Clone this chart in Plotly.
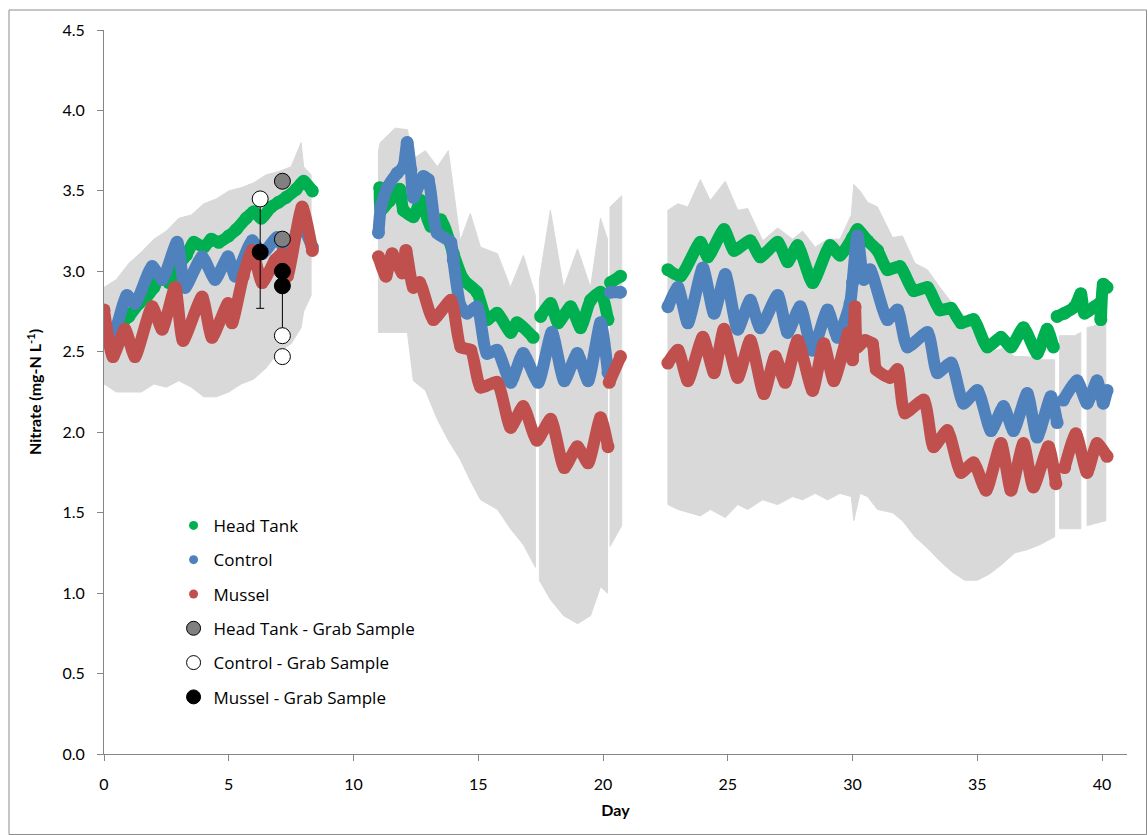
import plotly.graph_objects as go

# ---------------- data ----------------
# Head Tank continuous sensor series (None = data gap)
ht_day = [0.0, 0.3, 0.7, 1.0, 1.4, 1.7, 2.0, 2.3, 2.6, 3.0, 3.3, 3.6, 4.0, 4.3, 4.6, 5.0, 5.3, 5.7, 6.0, 6.3, 6.7, 7.0, 7.3, 7.7, 8.0, 8.35,
          None,
          11.05, 11.1, 11.45, 11.85, 12.0, 12.4, 12.7, 13.1, 13.5, 14.0, 14.4, 14.95, 15.35, 15.75, 16.3, 16.55, 17.2,
          None,
          17.5, 17.9, 18.2, 18.7, 19.1, 19.5, 19.9, 20.2,
          None,
          20.3, 20.7,
          None,
          22.6, 23.1, 23.9, 24.2, 24.85, 25.25, 25.9, 26.3, 27.0, 27.4, 27.8, 28.4, 29.1, 29.5, 30.0, 30.2, 30.6, 31.0, 31.4, 31.9,
          32.45, 33.0, 33.5, 33.95, 34.35, 34.85, 35.4, 35.95, 36.35, 36.85, 37.4, 37.8, 38.05,
          None,
          38.2, 38.5, 38.9, 39.15, 39.3, 39.7, 39.9, 39.95, 40.05, 40.2]
ht_val = [2.58, 2.63, 2.68, 2.72, 2.80, 2.84, 2.90, 2.98, 2.93, 3.04, 3.10, 3.18, 3.15, 3.20, 3.18, 3.22, 3.26, 3.33, 3.37, 3.33, 3.40, 3.43, 3.46, 3.51, 3.56, 3.50,
          None,
          3.52, 3.38, 3.44, 3.51, 3.38, 3.34, 3.44, 3.28, 3.32, 3.11, 2.95, 2.87, 2.70, 2.74, 2.62, 2.68, 2.59,
          None,
          2.72, 2.80, 2.68, 2.78, 2.65, 2.82, 2.87, 2.70,
          None,
          2.93, 2.97,
          None,
          3.01, 2.97, 3.18, 3.09, 3.26, 3.13, 3.19, 3.09, 3.18, 3.06, 3.16, 2.93, 3.16, 3.10, 3.21, 3.26, 3.19, 3.13, 3.01, 3.03,
          2.88, 2.90, 2.76, 2.77, 2.68, 2.70, 2.53, 2.59, 2.53, 2.65, 2.49, 2.64, 2.53,
          None,
          2.72, 2.74, 2.78, 2.86, 2.74, 2.78, 2.80, 2.70, 2.92, 2.90]

# Control continuous sensor series
ct_day = [0.05, 0.32, 0.92, 1.24, 1.93, 2.33, 2.93, 3.25, 3.93, 4.45, 4.97, 5.26, 5.94, 6.34, 6.94, 7.38, 7.86, 8.35,
          None,
          11.0, 11.1, 11.35, 11.75, 12.0, 12.15, 12.3, 12.4, 12.8, 13.0, 13.35, 13.9, 14.0, 14.3, 14.55, 14.95, 15.35, 15.75,
          16.3, 16.8, 17.4, 17.95, 18.45, 18.97, 19.4, 19.9, 20.2,
          None,
          20.3, 20.7,
          None,
          22.6, 23.0, 23.4, 24.0, 24.45, 24.9, 25.4, 25.9, 26.3, 27.0, 27.4, 27.9, 28.4, 29.0, 29.4, 29.9, 30.0, 30.2, 30.45, 30.7,
          31.4, 31.8, 32.2, 33.0, 33.4, 33.95, 34.45, 35.0, 35.55, 36.05, 36.45, 37.0, 37.4, 37.95, 38.2,
          None,
          38.45, 39.0, 39.4, 39.8, 40.05, 40.2]
ct_val = [2.65, 2.58, 2.85, 2.80, 3.03, 2.95, 3.18, 2.90, 3.09, 2.95, 3.09, 2.97, 3.19, 3.11, 3.21, 3.09, 3.30, 3.15,
          None,
          3.24, 3.40, 3.52, 3.61, 3.65, 3.80, 3.63, 3.46, 3.59, 3.57, 3.24, 3.18, 3.07, 2.78, 2.74, 2.78, 2.49, 2.51,
          2.31, 2.49, 2.31, 2.62, 2.32, 2.49, 2.32, 2.68, 2.37,
          None,
          2.87, 2.87,
          None,
          2.78, 2.90, 2.68, 3.02, 2.74, 2.98, 2.64, 2.82, 2.65, 2.85, 2.62, 2.78, 2.51, 2.76, 2.59, 2.80, 2.93, 3.22, 2.95, 3.01,
          2.70, 2.76, 2.53, 2.62, 2.37, 2.43, 2.18, 2.26, 2.01, 2.16, 2.01, 2.24, 1.97, 2.22, 2.06,
          None,
          2.20, 2.32, 2.18, 2.32, 2.18, 2.26]

# Mussel continuous sensor series
ms_day = [0.0, 0.36, 0.84, 1.24, 1.93, 2.33, 2.85, 3.17, 3.93, 4.33, 4.97, 5.13, 5.58, 5.94, 6.34, 6.86, 7.14, 7.35, 7.94, 8.35,
          None,
          11.0, 11.3, 11.55, 11.95, 12.1, 12.4, 12.65, 13.2, 13.9, 14.3, 14.7, 15.1, 15.75, 16.3, 16.8, 17.35, 17.9, 18.45, 18.97,
          19.4, 19.9, 20.2,
          None,
          20.25, 20.7,
          None,
          22.6, 23.0, 23.4, 24.0, 24.45, 24.85, 25.4, 25.9, 26.45, 26.9, 27.3, 27.8, 28.4, 28.85, 29.25, 29.85, 30.0, 30.1, 30.2,
          30.5, 30.8, 30.95, 31.5, 31.8, 32.1, 32.85, 33.25, 33.8, 34.35, 34.85, 35.35, 35.95, 36.35, 36.85, 37.25, 37.85, 38.15,
          None,
          38.5, 38.95, 39.4, 39.8, 40.2]
ms_val = [2.76, 2.47, 2.64, 2.47, 2.78, 2.64, 2.90, 2.57, 2.84, 2.59, 2.80, 2.68, 2.97, 3.13, 2.93, 3.07, 3.11, 2.97, 3.40, 3.13,
          None,
          3.09, 2.97, 3.11, 2.99, 3.13, 2.90, 2.93, 2.70, 2.82, 2.53, 2.51, 2.28, 2.31, 2.03, 2.16, 1.95, 2.08, 1.78, 1.91,
          1.81, 2.09, 1.91,
          None,
          2.31, 2.47,
          None,
          2.43, 2.51, 2.32, 2.59, 2.37, 2.64, 2.34, 2.57, 2.24, 2.47, 2.31, 2.57, 2.26, 2.55, 2.32, 2.62, 2.45, 2.78, 2.53,
          2.57, 2.55, 2.39, 2.34, 2.39, 2.12, 2.20, 1.91, 2.01, 1.75, 1.81, 1.64, 1.93, 1.64, 1.93, 1.66, 1.91, 1.68,
          None,
          1.78, 1.99, 1.75, 1.93, 1.85]

# Envelope of the grey error bars (upper / lower limits), None = gap
band_day = [0.0, 0.5, 1.0, 1.5, 2.0, 2.5, 3.0, 3.5, 4.0, 4.5, 5.0, 5.5, 6.0, 6.5, 7.0, 7.5, 7.9, 8.0, 8.3,
            None,
            11.0, 11.07, 11.67, 12.16, 12.4, 12.88, 13.36, 13.8, 14.28, 14.68, 15.09, 15.77, 16.29, 16.81, 17.29,
            None,
            17.45, 17.89, 18.42, 18.98, 19.5, 19.9, 20.18,
            None,
            20.28, 20.75,
            None,
            22.6, 23.0, 23.4, 23.9, 24.3, 24.9, 25.4, 25.8, 26.4, 27.0, 27.6, 28.0, 28.5, 29.0, 29.5, 29.95, 30.05, 30.3, 30.6,
            31.0, 31.6, 32.0, 32.5, 33.0, 33.5, 34.0, 34.5, 35.0, 35.5, 36.0, 36.5, 37.0, 37.5, 38.1,
            None,
            38.3, 38.9, 39.15,
            None,
            39.4, 40.15]
band_hi = [2.90, 2.95, 3.05, 3.12, 3.20, 3.25, 3.33, 3.35, 3.42, 3.45, 3.50, 3.52, 3.55, 3.60, 3.62, 3.65, 3.80, 3.65, 3.60,
           None,
           3.75, 3.80, 3.89, 3.88, 3.70, 3.75, 3.65, 3.75, 3.19, 3.36, 3.15, 3.11, 2.90, 3.10, 2.85,
           None,
           2.95, 3.38, 2.90, 3.14, 2.90, 3.33, 3.20,
           None,
           3.40, 3.47,
           None,
           3.38, 3.42, 3.40, 3.57, 3.44, 3.56, 3.38, 3.39, 3.19, 3.27, 3.20, 3.25, 3.15, 3.20, 3.20, 3.35, 3.54, 3.50, 3.43,
           3.40, 3.21, 3.22, 3.05, 3.01, 2.90, 2.80, 2.72, 2.60, 2.50, 2.52, 2.47, 2.47, 2.45, 2.45,
           None,
           2.60, 2.60, 2.62,
           None,
           2.65, 2.68]
band_lo = [2.30, 2.25, 2.25, 2.25, 2.30, 2.28, 2.32, 2.28, 2.22, 2.22, 2.25, 2.30, 2.33, 2.40, 2.50, 2.55, 2.65, 2.75, 2.85,
           None,
           2.62, 2.62, 2.62, 2.62, 2.32, 2.26, 2.08, 1.95, 1.83, 1.70, 1.58, 1.52, 1.40, 1.30, 1.16,
           None,
           1.08, 0.96, 0.86, 0.81, 0.86, 1.04, 1.00,
           None,
           1.29, 1.42,
           None,
           1.55, 1.52, 1.50, 1.48, 1.52, 1.47, 1.55, 1.52, 1.58, 1.55, 1.60, 1.58, 1.62, 1.58, 1.62, 1.60, 1.45, 1.62, 1.60,
           1.52, 1.50, 1.45, 1.35, 1.28, 1.20, 1.13, 1.08, 1.08, 1.12, 1.18, 1.25, 1.27, 1.30, 1.35,
           None,
           1.40, 1.40, 1.40,
           None,
           1.42, 1.45]

# Grab samples
grab_ht_day = [7.15, 7.15]
grab_ht_val = [3.56, 3.20]
grab_ct_day = [6.26, 7.15, 7.15]
grab_ct_val = [3.45, 2.60, 2.47]
grab_ct_err_plus = [0.0, 0.31, 0.0]
grab_ct_err_minus = [0.68, 0.0, 0.0]
grab_ms_day = [6.26, 7.15, 7.15]
grab_ms_val = [3.12, 3.00, 2.91]

x_ticks = [0, 5, 10, 15, 20, 25, 30, 35, 40]
y_ticks = [0.0, 0.5, 1.0, 1.5, 2.0, 2.5, 3.0, 3.5, 4.0, 4.5]

# ---------------- styling ----------------
GREEN = "#00b050"
BLUE = "#4f81bd"
RED = "#c0504d"
BAND = "#d9d9d9"
AXIS = "#868686"
FONT = "Lato, 'Open Sans', sans-serif"
LEG_FONT = "'Open Sans', Lato, sans-serif"


def band_polygon(days, hi, lo):
    xs, ys = [], []
    seg_d, seg_h, seg_l = [], [], []
    for d, h, l in list(zip(days, hi, lo)) + [(None, None, None)]:
        if d is None:
            if seg_d:
                xs += seg_d + seg_d[::-1] + [seg_d[0], None]
                ys += seg_h + seg_l[::-1] + [seg_h[0], None]
            seg_d, seg_h, seg_l = [], [], []
        else:
            seg_d.append(d); seg_h.append(h); seg_l.append(l)
    return xs, ys


bx, by = band_polygon(band_day, band_hi, band_lo)

fig = go.Figure()
fig.add_trace(go.Scatter(x=bx, y=by, mode="lines", fill="toself", fillcolor=BAND,
                         line=dict(color=BAND, width=1), showlegend=False, hoverinfo="skip"))

for d, v, c in [(ht_day, ht_val, GREEN), (ct_day, ct_val, BLUE), (ms_day, ms_val, RED)]:
    fig.add_trace(go.Scatter(x=d, y=v, mode="lines+markers",
                             line=dict(color=c, width=12, shape="spline", smoothing=0.6),
                             marker=dict(color=c, size=13), showlegend=False))

fig.add_trace(go.Scatter(x=grab_ht_day, y=grab_ht_val, mode="markers",
                         marker=dict(color="#808080", size=16, line=dict(color="black", width=1)),
                         showlegend=False))
fig.add_trace(go.Scatter(x=grab_ct_day, y=grab_ct_val, mode="markers",
                         error_y=dict(type="data", symmetric=False, array=grab_ct_err_plus,
                                      arrayminus=grab_ct_err_minus, color="black", thickness=1, width=4),
                         marker=dict(color="white", size=16, line=dict(color="black", width=1)),
                         showlegend=False))
fig.add_trace(go.Scatter(x=grab_ms_day, y=grab_ms_val, mode="markers",
                         marker=dict(color="black", size=16, line=dict(color="black", width=1)),
                         showlegend=False))

# legend entries
legend_items = [("Head Tank", GREEN, 9, GREEN), ("Control", BLUE, 9, BLUE), ("Mussel", RED, 9, RED),
                ("Head Tank - Grab Sample", "#808080", 14, "black"),
                ("Control - Grab Sample", "white", 14, "black"),
                ("Mussel - Grab Sample", "black", 14, "black")]
for i, (name, col, sz, lc) in enumerate(legend_items):
    fig.add_trace(go.Scatter(x=[None], y=[None], mode="markers", name=name, legendgroup=str(i),
                             marker=dict(color=col, size=sz, line=dict(color=lc, width=1 if sz > 10 else 0))))

fig.update_layout(
    width=1148, height=835,
    margin=dict(l=104, r=21, t=30, b=81),
    paper_bgcolor="white", plot_bgcolor="white",
    font=dict(family=FONT, size=16, color="black"),
    showlegend=True,
    legend=dict(x=0.068, y=0.34, xanchor="left", yanchor="top", bgcolor="rgba(0,0,0,0)",
                font=dict(size=17, family=LEG_FONT), tracegroupgap=9.2, itemsizing="trace"),
    xaxis=dict(range=[0, 41], tickvals=x_ticks, ticktext=[str(t) for t in x_ticks],
               showline=True, linecolor=AXIS, linewidth=1, ticks="outside", ticklen=6, tickcolor=AXIS,
               showgrid=False, zeroline=False, ticklabelstandoff=10,
               title=dict(text="<b>Day</b>", font=dict(size=16), standoff=12)),
    yaxis=dict(range=[0, 4.5], tickvals=y_ticks, ticktext=["%.1f" % t for t in y_ticks],
               showline=True, linecolor=AXIS, linewidth=1, ticks="outside", ticklen=6, tickcolor=AXIS,
               showgrid=False, zeroline=False, ticklabelstandoff=9,
               title=dict(text="<b>Nitrate (mg-N L<sup>-1</sup>)</b>", font=dict(size=16), standoff=16)),
    shapes=[dict(type="rect", xref="paper", yref="paper",
                 x0=(9 - 104) / 1023, x1=(1146.5 - 104) / 1023,
                 y0=(754 - 834.5) / 724, y1=(754 - 10) / 724,
                 line=dict(color="#8c8c8c", width=1), fillcolor="rgba(0,0,0,0)", layer="below")],
)

fig.write_html("out.html")
